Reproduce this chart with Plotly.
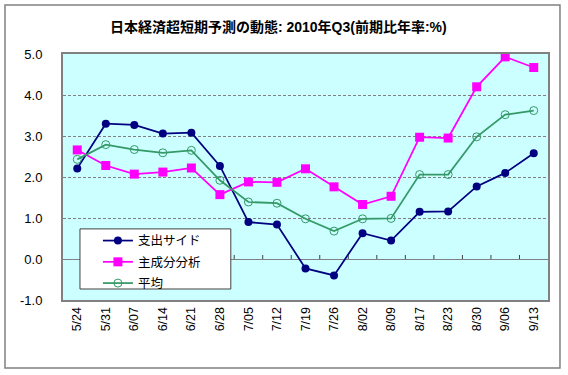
import plotly.graph_objects as go

categories = ["5/24", "5/31", "6/07", "6/14", "6/21", "6/28", "7/05", "7/12", "7/19",
              "7/26", "8/02", "8/09", "8/17", "8/23", "8/30", "9/06", "9/13"]
expenditure = [2.21, 3.30, 3.27, 3.06, 3.08, 2.27, 0.90, 0.84, -0.23,
               -0.40, 0.63, 0.45, 1.15, 1.16, 1.77, 2.10, 2.58]
principal = [2.66, 2.28, 2.07, 2.12, 2.22, 1.57, 1.88, 1.87, 2.20,
             1.76, 1.33, 1.53, 2.97, 2.95, 4.20, 4.93, 4.67]
average = [2.43, 2.79, 2.67, 2.59, 2.65, 1.92, 1.39, 1.36, 0.98,
           0.68, 0.98, 0.99, 2.06, 2.06, 2.98, 3.52, 3.62]
y_ticks = [5.0, 4.0, 3.0, 2.0, 1.0, 0.0, -1.0]
names = ["支出サイド", "主成分分析", "平均"]

FONT = "Arial, 'Liberation Sans', 'Noto Sans CJK JP', sans-serif"

fig = go.Figure()
fig.add_trace(go.Scatter(x=categories, y=expenditure, name=names[0], mode="lines+markers",
                         legendgroup="a",
                         line=dict(color="#000080", width=1.75),
                         marker=dict(symbol="circle", size=8, color="#000080")))
fig.add_trace(go.Scatter(x=categories, y=principal, name=names[1], mode="lines+markers",
                         legendgroup="b",
                         line=dict(color="#FF00FF", width=1.75),
                         marker=dict(symbol="square", size=9, color="#FF00FF")))
fig.add_trace(go.Scatter(x=categories, y=average, name=names[2], mode="lines+markers",
                         legendgroup="c",
                         line=dict(color="#339966", width=1.75),
                         marker=dict(symbol="circle-open", size=8, color="#339966",
                                     line=dict(width=1))))

shapes = []
# outer chart frame
shapes.append(dict(type="rect", xref="paper", yref="paper", x0=-0.1196, x1=1.0247,
                   y0=-0.276, y1=1.199, line=dict(color="#808080", width=1.5),
                   fillcolor="rgba(0,0,0,0)", layer="below"))
# tick marks on the zero line at category boundaries
for i in range(len(categories) - 1):
    shapes.append(dict(type="line", xref="x", yref="y", x0=i + 0.5, x1=i + 0.5,
                       ysizemode="pixel", yanchor=0, y0=0, y1=4,
                       line=dict(color="#404040", width=1)))
# legend box
shapes.append(dict(type="rect", xref="paper", yref="paper", x0=0.035, x1=0.346,
                   y0=0.0447, y1=0.289, line=dict(color="#404040", width=1),
                   fillcolor="white", layer="above"))

fig.update_layout(
    width=568, height=375,
    margin=dict(l=63, r=20, t=54, b=75, autoexpand=False),
    paper_bgcolor="white",
    plot_bgcolor="#CCFFFF",
    font=dict(family=FONT, size=12, color="black"),
    title=dict(text="<b>日本経済超短期予測の動態: 2010年Q3(前期比年率:%)</b>",
               x=0.49, xanchor="center", y=0.928, yanchor="middle",
               font=dict(size=14, family=FONT)),
    showlegend=True,
    legend=dict(x=0.072, y=0.301, xanchor="left", yanchor="top",
                bgcolor="rgba(0,0,0,0)", borderwidth=0,
                font=dict(size=12.5, family=FONT), itemwidth=30,
                tracegroupgap=2),
    shapes=shapes,
)
fig.update_xaxes(type="category", range=[-0.5, len(categories) - 0.5],
                 tickangle=-90, showgrid=False, ticks="", automargin=False,
                 showline=True, linecolor="#808080", linewidth=2, mirror=True,
                 tickfont=dict(size=12.5, family=FONT))
fig.update_yaxes(range=[-1.0, 5.0], tickvals=y_ticks, automargin=False,
                 ticktext=[f"{v:.1f}" for v in y_ticks],
                 showgrid=True, gridcolor="#808080", griddash="3px,2px", gridwidth=1,
                 zeroline=True, zerolinecolor="#808080", zerolinewidth=1,
                 showline=True, linecolor="#808080", linewidth=2, mirror=True,
                 ticks="", ticklabelstandoff=16,
                 tickfont=dict(size=13, family=FONT))

fig.write_html("out.html", config={"displayModeBar": False},
               post_script="document.body.style.margin='0';")
